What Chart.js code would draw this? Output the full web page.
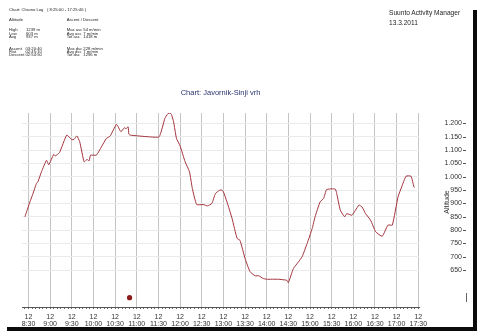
<!DOCTYPE html>
<html>
<head>
<meta charset="utf-8">
<title>Javornik-Sinji vrh</title>
<script src="https://cdn.jsdelivr.net/npm/chart.js@4.4.0/dist/chart.umd.min.js"></script>
<style>
  html, body { margin: 0; padding: 0; background: #fff; }
  #page { position: relative; width: 480px; height: 334px; overflow: hidden; background: #fff;
          font-family: "Liberation Sans", Arial, sans-serif; color: #1e1e1e; }
  #altitudeChart { position: absolute; left: 0; top: 0; }
  .hd { position: absolute; white-space: pre; font-size: 4.2px; line-height: 4px; }
  .brand { position: absolute; left: 389px; white-space: pre; font-size: 6.6px; line-height: 7px; }
  .edge { position: absolute; background: #0b0b0b; }
</style>
</head>
<body>
<div id="page">
  <canvas id="altitudeChart" width="480" height="334"></canvas>

  <!-- chrono log summary -->
  <div class="hd" style="left:9px;top:8px">Chart: Chrono Log   ( 8:25:00 - 17:25:46 )</div>
  <div class="hd" style="left:9px;top:18.3px">Altitude</div>
  <div class="hd" style="left:66.7px;top:18.3px">Ascent / Descent</div>

  <div class="hd" style="left:9px;top:28.3px">High</div>
  <div class="hd" style="left:26px;top:28.3px">1239 m</div>
  <div class="hd" style="left:9px;top:31.7px">Low</div>
  <div class="hd" style="left:26px;top:31.7px">603 m</div>
  <div class="hd" style="left:9px;top:35px">Avg</div>
  <div class="hd" style="left:26px;top:35px">937 m</div>

  <div class="hd" style="left:66.7px;top:28.3px">Max asc</div>
  <div class="hd" style="left:83.3px;top:28.3px">54 m/min</div>
  <div class="hd" style="left:66.7px;top:31.7px">Avg asc</div>
  <div class="hd" style="left:83.3px;top:31.7px">7 m/min</div>
  <div class="hd" style="left:66.7px;top:35px">Tot asc</div>
  <div class="hd" style="left:83.3px;top:35px">1418 m</div>

  <div class="hd" style="left:9px;top:46.7px">Ascent</div>
  <div class="hd" style="left:25.5px;top:46.7px">03:20:40</div>
  <div class="hd" style="left:9px;top:50px">Flat</div>
  <div class="hd" style="left:25.5px;top:50px">02:45:10</div>
  <div class="hd" style="left:9px;top:53.3px">Descent</div>
  <div class="hd" style="left:25.5px;top:53.3px">02:54:50</div>

  <div class="hd" style="left:66.7px;top:46.7px">Max dsc</div>
  <div class="hd" style="left:83.3px;top:46.7px">228 m/min</div>
  <div class="hd" style="left:66.7px;top:50px">Avg dsc</div>
  <div class="hd" style="left:83.3px;top:50px">7 m/min</div>
  <div class="hd" style="left:66.7px;top:53.3px">Tot dsc</div>
  <div class="hd" style="left:83.3px;top:53.3px">1296 m</div>

  <div class="brand" style="top:9px">Suunto Activity Manager</div>
  <div class="brand" style="top:19px">13.3.2011</div>

  <!-- page shadow -->
  <div class="edge" style="left:473px;top:10px;width:4px;height:321px"></div>
  <div class="edge" style="left:7px;top:327px;width:470px;height:4px"></div>
  <div style="position:absolute;left:465.5px;top:293px;width:1px;height:9px;background:#666"></div>
</div>

<script>
// altitude profile, clock time -> metres
var dayLabel = "12";
var times = ["8:25", "8:32", "8:36", "8:41", "8:43", "8:48", "8:55", "8:58", "9:05", "9:07",
             "9:13", "9:23", "9:30", "9:33", "9:37", "9:41", "9:47", "9:51", "9:54", "9:56",
             "10:04", "10:11", "10:18", "10:23", "10:32", "10:38", "10:43", "10:45", "10:48", "10:49",
             "10:51", "11:16", "11:31", "11:39", "11:43", "11:46", "11:48", "11:51", "11:55", "12:00",
             "12:07", "12:13", "12:17", "12:23", "12:32", "12:38", "12:44", "12:49", "12:55", "12:58",
             "13:00", "13:05", "13:12", "13:19", "13:23", "13:30", "13:37", "13:44", "13:49", "13:55",
             "14:00", "14:16", "14:28", "14:30", "14:37", "14:44", "14:49", "14:56", "15:03", "15:07",
             "15:14", "15:19", "15:23", "15:35", "15:37", "15:42", "15:48", "15:51", "15:58", "16:03",
             "16:08", "16:12", "16:17", "16:24", "16:31", "16:40", "16:48", "16:54", "17:02", "17:07",
             "17:13", "17:20", "17:24", "17:25"];
var altitude = [850, 906, 935, 975, 981, 1019, 1062, 1045, 1084, 1078,
                1091, 1156, 1139, 1140, 1153, 1131, 1056, 1065, 1060, 1081,
                1081, 1112, 1144, 1152, 1196, 1169, 1184, 1180, 1187, 1160,
                1156, 1150, 1150, 1219, 1236, 1239, 1234, 1206, 1144, 1116,
                1056, 1019, 956, 896, 896, 891, 900, 937, 950, 950,
                944, 906, 844, 769, 762, 694, 644, 629, 629, 619,
                616, 616, 612, 603, 656, 681, 700, 750, 806, 850,
                906, 919, 952, 954, 937, 875, 850, 862, 856, 875,
                894, 887, 862, 837, 794, 777, 819, 819, 925, 962,
                1002, 1002, 962, 960];
var lapTimes = ["10:50"];
var lapAltitude = [547];
var altitudeTicks = [650, 700, 750, 800, 850, 900, 950, 1000, 1050, 1100, 1150, 1200];

var FONT = '"Liberation Sans", Arial, sans-serif';

function toMinutes(t) {
  var p = t.split(":");
  return parseInt(p[0], 10) * 60 + parseInt(p[1], 10);
}

function clock(m) {
  var h = Math.floor(m / 60), mm = m % 60;
  return h + ":" + (mm < 10 ? "0" : "") + mm;
}

function metres(v) {
  if (v < 1000) return String(v);
  var r = String(v % 1000);
  while (r.length < 3) r = "0" + r;
  return Math.floor(v / 1000) + "." + r;
}

var App = {
  // right-hand axis extras: little tick dashes and the rotated caption
  axisDecor: {
    id: "axisDecor",
    afterDraw: function(chart) {
      var c = chart.ctx, y = chart.scales.y;
      c.save();
      c.strokeStyle = "#555";
      c.lineWidth = 1;
      altitudeTicks.forEach(function(v) {
        var py = Math.round(y.getPixelForValue(v)) + 0.5;
        c.beginPath();
        c.moveTo(463, py);
        c.lineTo(466, py);
        c.stroke();
      });
      c.translate(447, 202);
      c.rotate(-Math.PI / 2);
      c.fillStyle = "#333";
      c.font = "7px " + FONT;
      c.textAlign = "center";
      c.textBaseline = "middle";
      c.fillText("Altitude", 0, 0);
      c.restore();
    }
  },

  graph: function() {
    var profile = times.map(function(t, i) { return { x: toMinutes(t), y: altitude[i] }; });
    var laps = lapTimes.map(function(t, i) { return { x: toMinutes(t), y: lapAltitude[i] }; });

    return new Chart(document.getElementById("altitudeChart"), {
      type: "line",
      data: {
        datasets: [
          {
            data: profile,
            borderColor: "#a3323c",
            borderWidth: 1,
            pointRadius: 0,
            tension: 0.15,
            fill: false
          },
          {
            type: "scatter",
            data: laps,
            pointRadius: 2.6,
            backgroundColor: "#8c1a1a",
            borderWidth: 0
          }
        ]
      },
      options: {
        responsive: false,
        animation: false,
        layout: { padding: { left: 22, right: 18, top: 0, bottom: 0 } },
        plugins: {
          legend: { display: false },
          tooltip: { enabled: false },
          title: {
            display: true,
            text: "Chart: Javornik-Sinji vrh",
            color: "#27336e",
            fullSize: false,
            font: { family: FONT, size: 7.5, weight: "normal" },
            padding: { top: 88, bottom: 16 }
          }
        },
        scales: {
          x: {
            type: "linear",
            min: toMinutes("8:21"),
            max: toMinutes("17:31"),
            afterBuildTicks: function(scale) {
              var list = [];
              for (var m = Math.ceil(scale.min / 5) * 5; m <= scale.max; m += 5) list.push({ value: m });
              scale.ticks = list;
            },
            afterFit: function(scale) { scale.height = 27; },
            grid: {
              color: function(ctx) {
                return ctx.tick && ctx.tick.value % 30 === 0 ? "#c4c4c4" : "rgba(0,0,0,0)";
              },
              lineWidth: 1,
              drawTicks: true,
              tickLength: 2,
              tickColor: "#666"
            },
            border: { display: true, color: "#555", width: 1 },
            ticks: {
              autoSkip: false,
              maxRotation: 0,
              padding: 4,
              color: "#333",
              font: { family: FONT, size: 7, lineHeight: 1.05 },
              callback: function(v) { return v % 30 === 0 ? [dayLabel, clock(v)] : ""; }
            }
          },
          y: {
            position: "right",
            min: 512,
            max: 1239,
            afterBuildTicks: function(scale) {
              scale.ticks = altitudeTicks.map(function(v) { return { value: v }; });
            },
            // labels are right-aligned against this box's right edge
            afterFit: function(scale) { scale.width = 43; },
            grid: { color: "#ebebeb", lineWidth: 1, drawTicks: false },
            border: { display: false },
            ticks: {
              crossAlign: "far",
              color: "#333",
              font: { family: FONT, size: 7 },
              callback: function(v) { return metres(v); }
            }
          }
        }
      },
      plugins: [App.axisDecor]
    });
  },

  init: function() {
    App.graph();
  }
};

App.init();
</script>
</body>
</html>
